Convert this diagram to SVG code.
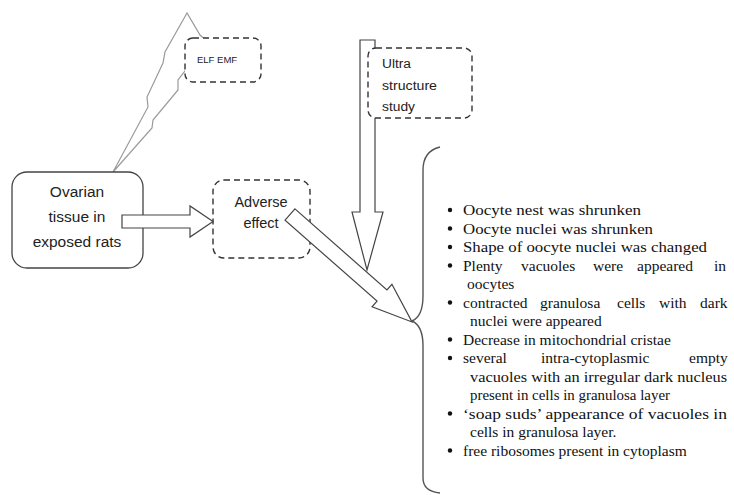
<svg xmlns="http://www.w3.org/2000/svg" width="734" height="495" viewBox="0 0 734 495">
<style>
.dash{fill:#fff;stroke:#333;stroke-width:1.4;stroke-dasharray:6 4}
.solid{fill:#fff;stroke:#444;stroke-width:1.3}
.arrow{fill:#fff;stroke:#444;stroke-width:1.2;stroke-linejoin:miter}
.bolt{fill:#fff;stroke:#9a9a9a;stroke-width:1.2;stroke-linejoin:miter}
.brace{fill:none;stroke:#555;stroke-width:1.4}
.sans{font-family:"Liberation Sans",Arial,sans-serif;fill:#222}
.ser{font-family:"Liberation Serif","Times New Roman",serif;font-size:15.5px;fill:#111}
.dot{fill:#111}
</style>
<rect width="734" height="495" fill="#fff"/>
<g id="connectors">
  <polygon class="bolt" points="187,13 165,52 163,63 147,97 148,107 113,172 152,128 153,120 178,90 178,80 192,62 215,48 200,35"/>
  <path class="arrow" d="M360,40 L375,40 L375,212 L383,212 L367,270 L352,212 L360,212 Z"/>
</g>
<g id="elf">
  <rect class="dash" x="185" y="38" width="76" height="44" rx="8"/>
  <text class="sans" x="197" y="63" font-size="9.5" fill="#333">ELF EMF</text>
</g>
<g id="ultra">
  <rect class="dash" x="368" y="48" width="104" height="70" rx="8"/>
  <text class="sans" x="382" y="68" font-size="12.5" textLength="29" lengthAdjust="spacingAndGlyphs">Ultra</text>
  <text class="sans" x="382" y="90" font-size="12.5" textLength="55" lengthAdjust="spacingAndGlyphs">structure</text>
  <text class="sans" x="382" y="111" font-size="12.5" textLength="33" lengthAdjust="spacingAndGlyphs">study</text>
</g>
<g id="ovarian">
  <rect class="solid" x="12" y="172" width="131" height="96" rx="15"/>
  <text class="sans" x="77" y="197" font-size="15.5" text-anchor="middle">Ovarian</text>
  <text class="sans" x="77" y="222" font-size="15.5" text-anchor="middle">tissue in</text>
  <text class="sans" x="77" y="247" font-size="15.5" text-anchor="middle">exposed rats</text>
</g>
<g id="adverse">
  <rect class="dash" x="213" y="180" width="97" height="78" rx="11"/>
  <text class="sans" x="261" y="207" font-size="14.5" text-anchor="middle">Adverse</text>
  <text class="sans" x="261" y="228" font-size="14.5" text-anchor="middle">effect</text>
</g>
<g id="connectors2">
  <path class="arrow" d="M122,215 L190,215 L190,206 L213,221.5 L190,237 L190,228 L122,228 Z"/>
  <path class="arrow" transform="translate(290,214.5) rotate(41.38)" d="M0,-7.5 L122.6,-7.5 L122.6,-15 L162.6,0 L122.6,15 L122.6,7.5 L0,7.5 Z"/>
  <path class="brace" d="M440,147 C428,150 423,158 423,170 L423,296 C423,310 419,318 412,321 C419,324 423,332 423,346 L423,478 C423,488 430,492 440,493"/>
</g>
<g id="findings">
  <circle class="dot" cx="450" cy="210" r="2.2"/>
  <circle class="dot" cx="450" cy="228.5" r="2.2"/>
  <circle class="dot" cx="450" cy="247" r="2.2"/>
  <circle class="dot" cx="450" cy="265.5" r="2.2"/>
  <circle class="dot" cx="450" cy="302.5" r="2.2"/>
  <circle class="dot" cx="450" cy="339.5" r="2.2"/>
  <circle class="dot" cx="450" cy="358" r="2.2"/>
  <circle class="dot" cx="450" cy="413.5" r="2.2"/>
  <circle class="dot" cx="450" cy="450.5" r="2.2"/>
  <text class="ser" x="463" y="215" textLength="178" lengthAdjust="spacingAndGlyphs">Oocyte nest was shrunken</text>
  <text class="ser" x="463" y="233.5" textLength="190" lengthAdjust="spacingAndGlyphs">Oocyte nuclei was shrunken</text>
  <text class="ser" x="463" y="252" textLength="244" lengthAdjust="spacingAndGlyphs">Shape of oocyte nuclei was changed</text>
  <text class="ser" y="270.5"><tspan x="463">Plenty</tspan><tspan x="521">vacuoles</tspan><tspan x="593">were</tspan><tspan x="637">appeared</tspan><tspan x="714">in</tspan></text>
  <text class="ser" x="467" y="289">oocytes</text>
  <text class="ser" y="307.5"><tspan x="463">contracted</tspan><tspan x="540">granulosa</tspan><tspan x="617">cells</tspan><tspan x="659">with</tspan><tspan x="700">dark</tspan></text>
  <text class="ser" x="470" y="326">nuclei were appeared</text>
  <text class="ser" x="463" y="344.5">Decrease in mitochondrial cristae</text>
  <text class="ser" y="363"><tspan x="463">several</tspan><tspan x="541">intra-cytoplasmic</tspan><tspan x="689">empty</tspan></text>
  <text class="ser" x="470" y="381.5" textLength="257" lengthAdjust="spacingAndGlyphs">vacuoles with an irregular dark nucleus</text>
  <text class="ser" x="470" y="400" textLength="200" lengthAdjust="spacingAndGlyphs">present in cells in granulosa layer</text>
  <text class="ser" x="463" y="418.5" textLength="264" lengthAdjust="spacingAndGlyphs">‘soap suds’ appearance of  vacuoles in</text>
  <text class="ser" x="470" y="437">cells in granulosa layer.</text>
  <text class="ser" x="463" y="455.5">free ribosomes present in cytoplasm</text>
</g>
</svg>
